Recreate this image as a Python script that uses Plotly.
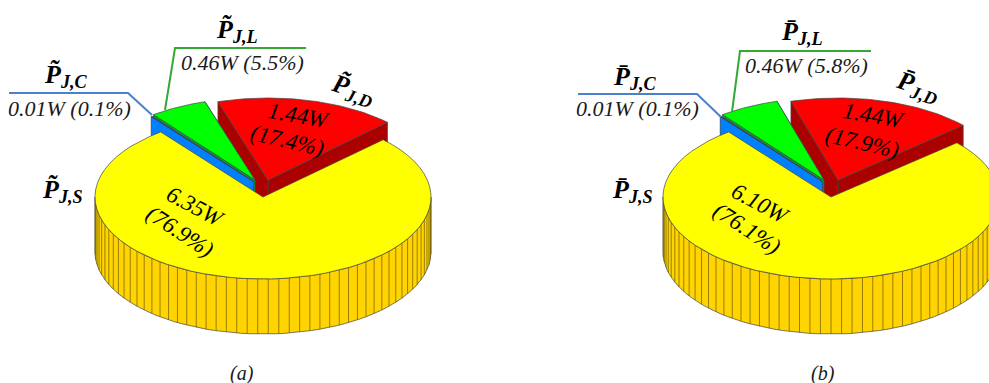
import numpy as np
import plotly.graph_objects as go

# order: S, C, L, D (clockwise from the yellow slice)
keys = ["S", "C", "L", "D"]
watts_a = [6.35, 0.01, 0.46, 1.44]
pct_a = [76.9, 0.1, 5.5, 17.4]
watts_b = [6.10, 0.01, 0.46, 1.44]
pct_b = [76.1, 0.1, 5.8, 17.9]

TOP = {"S": "#FFFF00", "C": "#0080FF", "L": "#00FF00", "D": "#FF0000"}
WALL = {"S": "#FFD400", "C": "#0080FF", "L": "#00A040", "D": "#AA0000"}
EDGE = "#444444"
SERIF = "Liberation Serif"
RX, RY = 168, 82
END_ANGLE = 127.5  # where yellow stops, degrees
DEPTH = 55

fig = go.Figure()


def poly(x, y, color):
    fig.add_trace(go.Scatter(x=x, y=y, mode="lines", fill="toself", fillcolor=color,
                             line=dict(color=EDGE, width=0.7), hoverinfo="skip", showlegend=False))


def wedge_pts(cx, cy, a0, a1):
    t = np.radians(np.linspace(a0, a1, 60))
    return cx + RX * np.cos(t), cy - RY * np.sin(t)


def wall(cx, cy, ang, color):
    t = np.radians(ang)
    px, py = cx + RX * np.cos(t), cy - RY * np.sin(t)
    poly([cx, px, px, cx, cx], [cy, py, py + DEPTH, cy + DEPTH, cy], color)


def draw_pie(pct, cx, cy, offs, rim_phase):
    ang = END_ANGLE
    spans = {}
    # slices after the yellow one run clockwise from END_ANGLE
    for k, p in zip(keys[1:], pct[1:]):
        spans[k] = (ang, ang - p * 3.6)
        ang -= p * 3.6
    # walls go the full depth, the yellow top hides their lower part
    for k in ["D", "L", "C"]:
        a0, a1 = spans[k]
        ox, oy = cx + offs[k][0], cy + offs[k][1]
        wall(ox, oy, a1, WALL[k])
        wall(ox, oy, a0, WALL[k])
        x, y = wedge_pts(ox, oy, a0, a1)
        poly([ox, *x, ox], [oy, *y, oy], TOP[k])
    # yellow rim, front half only
    x, y = wedge_pts(cx, cy, 180, 360)
    poly([*x, *x[::-1], x[0]], [*y, *(y[::-1] + DEPTH), y[0]], WALL["S"])
    lx, ly = [], []
    for a in np.arange(180 + rim_phase, 360, 3.6):
        t = np.radians(a)
        lx += [cx + RX * np.cos(t), cx + RX * np.cos(t), None]
        ly += [cy - RY * np.sin(t), cy - RY * np.sin(t) + DEPTH, None]
    fig.add_trace(go.Scatter(x=lx, y=ly, mode="lines", line=dict(color="#6b5a00", width=0.7),
                             hoverinfo="skip", showlegend=False))
    a_start = END_ANGLE + pct[0] * 3.6 - 360
    x, y = wedge_pts(cx, cy, a_start, a_start - pct[0] * 3.6)
    poly([cx, *x, cx], [cy, *y, cy], TOP["S"])


draw_pie(pct_a, 263, 197, {"D": (5, -17), "L": (-8, -17), "C": (-9.5, -15.5)}, 1.8)
draw_pie(pct_b, 831, 197, {"D": (7, -17), "L": (-7, -17), "C": (-8.5, -15.5)}, 3.6)


def leader(x, y, color):
    fig.add_trace(go.Scatter(x=x, y=y, mode="lines", line=dict(color=color, width=2),
                             hoverinfo="skip", showlegend=False))


leader([9, 128, 152], [93, 93, 115], "#4A80D0")
leader([306, 175, 165], [48, 48, 110], "#35A835")
leader([578, 697, 721], [94, 94, 117], "#4A80D0")
leader([871, 740, 732], [51, 51, 112], "#35A835")


def text(x, y, s, size=22, angle=0, color="#1a1a1a"):
    fig.add_annotation(x=x, y=y, text=s, showarrow=False, textangle=angle, xref="x", yref="y",
                       font=dict(family=SERIF, size=size, color=color))


def symbol(mark, sub):
    return f"<b><i>P{mark}<sub>J,{sub}</sub></i></b>"


def val(w, p):
    return f"<i>{w:.2f}W ({p:.1f}%)</i>"


def labels(watts, pct, mark, pos):
    text(*pos["S"], symbol(mark, "S"), 26, 0, "black")
    text(*pos["C"], symbol(mark, "C"), 26, 0, "black")
    text(*pos["L"], symbol(mark, "L"), 26, 0, "black")
    text(*pos["D"], symbol(mark, "D"), 26, 18, "black")
    text(*pos["vC"], val(watts[1], pct[1]))
    text(*pos["vL"], val(watts[2], pct[2]))
    text(*pos["vD1"], f"<i>{watts[3]:.2f}W</i>", 23, 10, "black")
    text(*pos["vD2"], f"<i>({pct[3]:.1f}%)</i>", 23, 13, "black")
    text(*pos["vS1"], f"<i>{watts[0]:.2f}W</i>", 23, 28, "black")
    text(*pos["vS2"], f"<i>({pct[0]:.1f}%)</i>", 23, 33, "black")


labels(watts_a, pct_a, "\u0303", dict(S=(62, 191), C=(66, 76), L=(237, 31), D=(353, 90), vC=(69, 108), vL=(242, 62),
                                      vD1=(298, 115), vD2=(287, 140), vS1=(195, 206), vS2=(180, 231)))
labels(watts_b, pct_b, "\u0304", dict(S=(632, 191), C=(635, 78), L=(802, 33), D=(918, 87), vC=(637, 108), vL=(806, 65),
                                      vD1=(873, 115), vD2=(862, 142), vS1=(760, 203), vS2=(747, 228)))
text(242, 373, "<i>(a)</i>", 20)
text(823, 373, "<i>(b)</i>", 20)

fig.update_layout(width=989, height=383, margin=dict(l=0, r=0, t=0, b=0), paper_bgcolor="white",
                  plot_bgcolor="white", showlegend=False,
                  xaxis=dict(range=[0, 989], visible=False, fixedrange=True),
                  yaxis=dict(range=[383, 0], visible=False, fixedrange=True))
fig.write_html("out.html", post_script="document.body.style.margin='0';", config=dict(displayModeBar=False))
